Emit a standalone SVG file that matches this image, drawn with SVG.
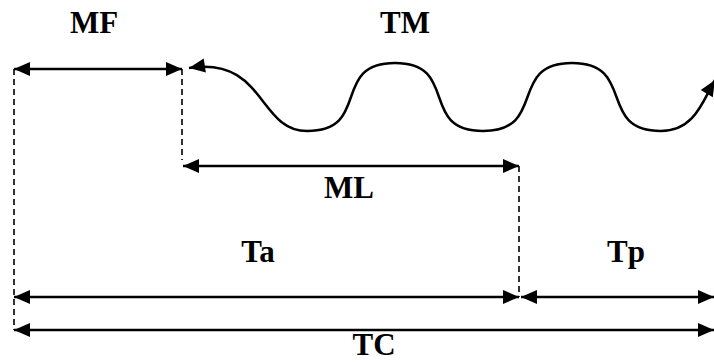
<svg xmlns="http://www.w3.org/2000/svg" width="714" height="362" viewBox="0 0 714 362">
  <style>
    .lbl { font-family: "Liberation Serif", "Times New Roman", serif; font-weight: bold; font-size: 31px; fill: #000; text-anchor: middle; }
    .dim { stroke: #000; stroke-width: 2.5; fill: none; marker-start: url(#head); marker-end: url(#head); }
    .guide { stroke: #000; stroke-width: 1.6; stroke-dasharray: 6 4; fill: none; }
    .wave { stroke: #000; stroke-width: 2.5; fill: none; marker-start: url(#head); marker-end: url(#head); }
  </style>
  <defs>
    <marker id="head" markerUnits="userSpaceOnUse" markerWidth="17" markerHeight="15" refX="16" refY="7" orient="auto-start-reverse" overflow="visible">
      <path d="M0,0 L16,7 L0,14 Z" fill="#000"/>
    </marker>
  </defs>
  <rect width="714" height="362" fill="#fff"/>

  <!-- vertical dashed guides -->
  <g id="guides">
    <line class="guide" x1="14" y1="69" x2="14" y2="330"/>
    <line class="guide" x1="182" y1="69" x2="182" y2="160"/>
    <line class="guide" x1="519" y1="166" x2="519" y2="297"/>
  </g>

  <!-- dimension arrows and the wavy connector -->
  <g id="connectors">
    <line class="dim" x1="14" y1="69" x2="182" y2="69"/>
    <path class="wave" d="M189,68 C265,56 258,131 307,131 C372,131 330,63 395,63 S418,131 483,131 S507,63 572,63 S596,131 661,131 C695,131 703,100 715,80"/>
    <line class="dim" x1="183" y1="166" x2="519" y2="166"/>
    <line class="dim" x1="14" y1="297" x2="519" y2="297"/>
    <line class="dim" x1="521" y1="297" x2="714" y2="297"/>
    <line class="dim" x1="14" y1="330" x2="714" y2="330" stroke="#222"/>
  </g>

  <g id="MF"><text class="lbl" x="94" y="33">MF</text></g>
  <g id="TM"><text class="lbl" x="405" y="33">TM</text></g>
  <g id="ML"><text class="lbl" x="349" y="198">ML</text></g>
  <g id="Ta"><text class="lbl" x="258" y="262">Ta</text></g>
  <g id="Tp"><text class="lbl" x="626" y="262">Tp</text></g>
  <g id="TC"><text class="lbl" x="374" y="355">TC</text></g>
</svg>
